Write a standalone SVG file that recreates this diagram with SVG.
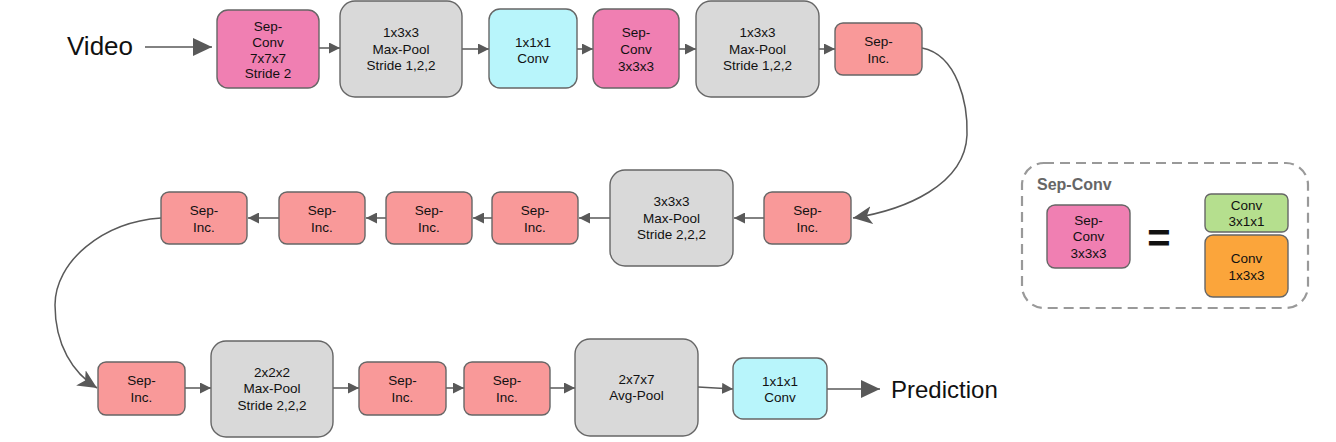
<svg xmlns="http://www.w3.org/2000/svg" width="1336" height="442" viewBox="0 0 1336 442">
<style>
  .box { stroke: #666; stroke-width: 1.4; }
  .pink { fill: #f07fb2; }
  .gray { fill: #d9d9d9; }
  .cyan { fill: #b8f5fb; }
  .salmon { fill: #f99999; }
  .green { fill: #b5df8e; }
  .orange { fill: #fba53b; }
  text { font-family: "Liberation Sans", Arial, sans-serif; fill: #111; }
  .lbl { font-size: 13.5px; text-anchor: middle; }
  .big { font-size: 25px; }
  .conn { fill: none; stroke: #595959; stroke-width: 1.5; }
</style>
<defs>
  <marker id="ah" markerUnits="userSpaceOnUse" markerWidth="11" markerHeight="11" refX="11" refY="5.5" orient="auto">
    <path d="M0,0 L11,5.5 L0,11 z" fill="#595959"/>
  </marker>
  <marker id="ahBig" markerUnits="userSpaceOnUse" markerWidth="19" markerHeight="18" refX="19" refY="9" orient="auto">
    <path d="M0,0 L19,9 L0,18 z" fill="#595959"/>
  </marker>
  <marker id="ahCurve" markerUnits="userSpaceOnUse" markerWidth="20" markerHeight="18" refX="19" refY="9" orient="auto">
    <path d="M0,0 L19,9 L0,18 L5,9 z" fill="#595959"/>
  </marker>
</defs>

<text class="big" x="67" y="55" style="font-size:26px">Video</text>
<text class="big" x="891" y="398" style="font-size:24px">Prediction</text>

<g id="connectors">
  <line class="conn" x1="145" y1="47" x2="212" y2="47" marker-end="url(#ahBig)"/>
  <line class="conn" x1="319" y1="48" x2="340" y2="48" marker-end="url(#ah)"/>
  <line class="conn" x1="462" y1="49" x2="489" y2="49" marker-end="url(#ah)"/>
  <line class="conn" x1="577" y1="49" x2="593" y2="49" marker-end="url(#ah)"/>
  <line class="conn" x1="679" y1="49" x2="696" y2="49" marker-end="url(#ah)"/>
  <line class="conn" x1="819" y1="49" x2="835" y2="49" marker-end="url(#ah)"/>
  <path class="conn" d="M922,48 C958,55 968,105 967,135 C965,185 905,210 853,218" marker-end="url(#ahCurve)"/>
  <line class="conn" x1="764" y1="218" x2="734" y2="218" marker-end="url(#ah)"/>
  <line class="conn" x1="610" y1="218" x2="579" y2="218" marker-end="url(#ah)"/>
  <line class="conn" x1="492" y1="218" x2="473" y2="218" marker-end="url(#ah)"/>
  <line class="conn" x1="386" y1="218" x2="366" y2="218" marker-end="url(#ah)"/>
  <line class="conn" x1="279" y1="218" x2="248" y2="218" marker-end="url(#ah)"/>
  <path class="conn" d="M161,218 C102,222 55,262 55,305 C55,345 73,373 97,388" marker-end="url(#ahCurve)"/>
  <line class="conn" x1="185" y1="388" x2="211" y2="388" marker-end="url(#ah)"/>
  <line class="conn" x1="333" y1="388" x2="359" y2="388" marker-end="url(#ah)"/>
  <line class="conn" x1="446" y1="388" x2="464" y2="388" marker-end="url(#ah)"/>
  <line class="conn" x1="550" y1="388" x2="575" y2="388" marker-end="url(#ah)"/>
  <line class="conn" x1="698" y1="387" x2="733" y2="389" marker-end="url(#ah)"/>
  <line class="conn" x1="827" y1="389" x2="880" y2="389" marker-end="url(#ahBig)"/>
</g>

<g id="sepconv7">
  <rect class="box pink" x="217" y="10" width="102" height="78" rx="11"/>
  <text class="lbl" x="268" y="31">Sep-</text>
  <text class="lbl" x="268" y="47">Conv</text>
  <text class="lbl" x="268" y="63">7x7x7</text>
  <text class="lbl" x="268" y="78">Stride 2</text>
</g>
<g id="maxpool1">
  <rect class="box gray" x="340" y="1" width="122" height="96" rx="15"/>
  <text class="lbl" x="401" y="37">1x3x3</text>
  <text class="lbl" x="401" y="53.5">Max-Pool</text>
  <text class="lbl" x="401" y="70">Stride 1,2,2</text>
</g>
<g id="conv1a">
  <rect class="box cyan" x="489" y="9" width="88" height="79" rx="11"/>
  <text class="lbl" x="533" y="47">1x1x1</text>
  <text class="lbl" x="533" y="63">Conv</text>
</g>
<g id="sepconv3">
  <rect class="box pink" x="593" y="9" width="86" height="79" rx="11"/>
  <text class="lbl" x="636" y="37">Sep-</text>
  <text class="lbl" x="636" y="54">Conv</text>
  <text class="lbl" x="636" y="70.5">3x3x3</text>
</g>
<g id="maxpool2">
  <rect class="box gray" x="696" y="1" width="123" height="96" rx="15"/>
  <text class="lbl" x="757.5" y="37">1x3x3</text>
  <text class="lbl" x="757.5" y="53.5">Max-Pool</text>
  <text class="lbl" x="757.5" y="70">Stride 1,2,2</text>
</g>
<g id="sepinc1">
  <rect class="box salmon" x="835" y="23" width="87" height="52" rx="8"/>
  <text class="lbl" x="878.5" y="46">Sep-</text>
  <text class="lbl" x="878.5" y="63">Inc.</text>
</g>

<g id="sepinc2">
  <rect class="box salmon" x="764" y="192" width="87" height="52" rx="8"/>
  <text class="lbl" x="807.5" y="215">Sep-</text>
  <text class="lbl" x="807.5" y="232">Inc.</text>
</g>
<g id="maxpool3">
  <rect class="box gray" x="610" y="170" width="123" height="96" rx="15"/>
  <text class="lbl" x="671.5" y="206">3x3x3</text>
  <text class="lbl" x="671.5" y="222.5">Max-Pool</text>
  <text class="lbl" x="671.5" y="239">Stride 2,2,2</text>
</g>
<g id="sepinc3">
  <rect class="box salmon" x="492" y="192" width="86" height="52" rx="8"/>
  <text class="lbl" x="535" y="215">Sep-</text>
  <text class="lbl" x="535" y="232">Inc.</text>
</g>
<g id="sepinc4">
  <rect class="box salmon" x="386" y="192" width="86" height="52" rx="8"/>
  <text class="lbl" x="429" y="215">Sep-</text>
  <text class="lbl" x="429" y="232">Inc.</text>
</g>
<g id="sepinc5">
  <rect class="box salmon" x="279" y="192" width="86" height="52" rx="8"/>
  <text class="lbl" x="322" y="215">Sep-</text>
  <text class="lbl" x="322" y="232">Inc.</text>
</g>
<g id="sepinc6">
  <rect class="box salmon" x="161" y="192" width="86" height="52" rx="8"/>
  <text class="lbl" x="204" y="215">Sep-</text>
  <text class="lbl" x="204" y="232">Inc.</text>
</g>

<g id="sepinc7">
  <rect class="box salmon" x="98" y="362" width="87" height="53" rx="8"/>
  <text class="lbl" x="141.5" y="385">Sep-</text>
  <text class="lbl" x="141.5" y="402">Inc.</text>
</g>
<g id="maxpool4">
  <rect class="box gray" x="211" y="341" width="122" height="96" rx="15"/>
  <text class="lbl" x="272" y="376.5">2x2x2</text>
  <text class="lbl" x="272" y="393">Max-Pool</text>
  <text class="lbl" x="272" y="409.5">Stride 2,2,2</text>
</g>
<g id="sepinc8">
  <rect class="box salmon" x="359" y="362" width="87" height="53" rx="8"/>
  <text class="lbl" x="402.5" y="385">Sep-</text>
  <text class="lbl" x="402.5" y="402">Inc.</text>
</g>
<g id="sepinc9">
  <rect class="box salmon" x="464" y="362" width="86" height="53" rx="8"/>
  <text class="lbl" x="507" y="385">Sep-</text>
  <text class="lbl" x="507" y="402">Inc.</text>
</g>
<g id="avgpool">
  <rect class="box gray" x="575" y="339" width="123" height="97" rx="15"/>
  <text class="lbl" x="636.5" y="384">2x7x7</text>
  <text class="lbl" x="636.5" y="400">Avg-Pool</text>
</g>
<g id="conv1b">
  <rect class="box cyan" x="733" y="358" width="94" height="61" rx="10"/>
  <text class="lbl" x="780" y="386">1x1x1</text>
  <text class="lbl" x="780" y="402">Conv</text>
</g>

<g id="legend">
  <rect x="1022" y="163" width="286" height="145" rx="22" fill="none" stroke="#999" stroke-width="2.2" stroke-dasharray="10 6"/>
  <text x="1037" y="190" style="font-size:16px;font-weight:bold;fill:#666">Sep-Conv</text>
  <g id="legend-sepconv">
    <rect class="box pink" x="1047" y="205" width="83" height="63" rx="8"/>
    <text class="lbl" x="1088.5" y="224.5">Sep-</text>
    <text class="lbl" x="1088.5" y="241">Conv</text>
    <text class="lbl" x="1088.5" y="257.5">3x3x3</text>
  </g>
  <text x="1159" y="252" style="font-size:40px;font-weight:bold;text-anchor:middle">=</text>
  <g id="legend-conv311">
    <rect class="box green" x="1205" y="194" width="83" height="38" rx="6"/>
    <text class="lbl" x="1246.5" y="210">Conv</text>
    <text class="lbl" x="1246.5" y="226">3x1x1</text>
  </g>
  <g id="legend-conv133">
    <rect class="box orange" x="1205" y="235" width="83" height="62" rx="8"/>
    <text class="lbl" x="1246.5" y="263">Conv</text>
    <text class="lbl" x="1246.5" y="280">1x3x3</text>
  </g>
</g>
</svg>
